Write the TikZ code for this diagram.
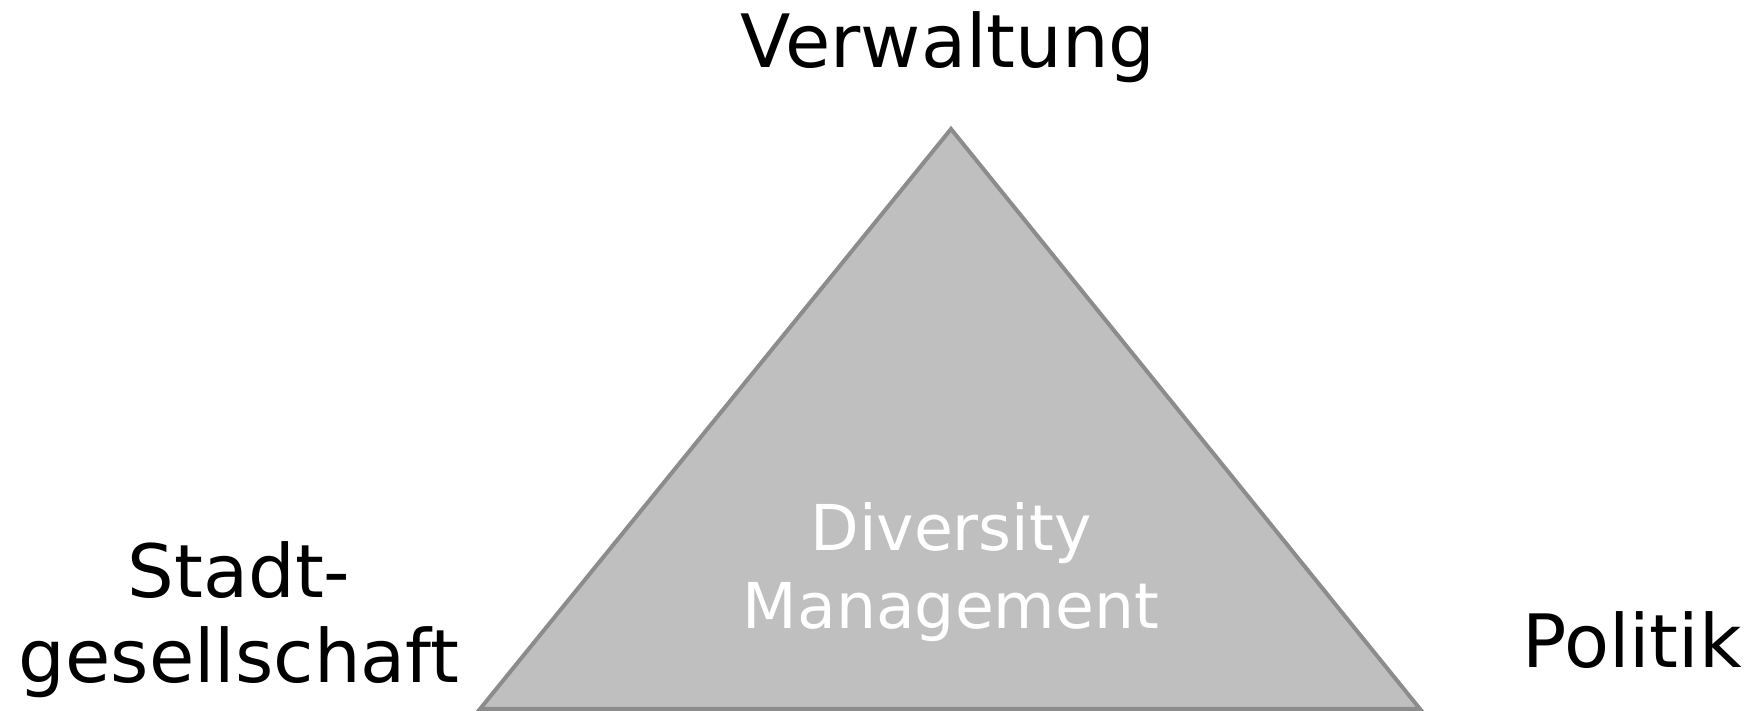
\documentclass[tikz,border=0pt]{standalone}
\usepackage{fontspec}
\setmainfont{DejaVu Sans}
\definecolor{trifill}{RGB}{191,191,191}
\definecolor{triline}{RGB}{140,140,140}
\begin{document}
\begin{tikzpicture}[
        x=0.5pt, y=0.5pt,
        tri/.style={draw=triline, fill=trifill, line width=2pt, line join=miter},
        corner/.style={anchor=base, inner sep=0pt, font=\fontsize{36.8}{42}\selectfont},
        inner/.style={anchor=base, inner sep=0pt, text=white, font=\fontsize{31.6}{39}\selectfont}
      ]
      \useasboundingbox (0,0) rectangle (1754,711);
      \coordinate (top) at (951,582);
      \coordinate (left) at (480,2);
      \coordinate (right) at (1420,2);
      \draw[tri] (top) -- (left) -- (right) -- cycle;
      \node[corner] (verw) at (948,643) {Verwaltung};
      \node[corner] (stadt1) at (239,113) {Stadt-};
      \node[corner] (stadt2) at (239,28) {gesellschaft};
      \node[corner] (pol) at (1632,43) {Politik};
      \node[inner] (div) at (951,160) {Diversity};
      \node[inner] (mgmt) at (951,82) {Management};
    \end{tikzpicture}
\end{document}
